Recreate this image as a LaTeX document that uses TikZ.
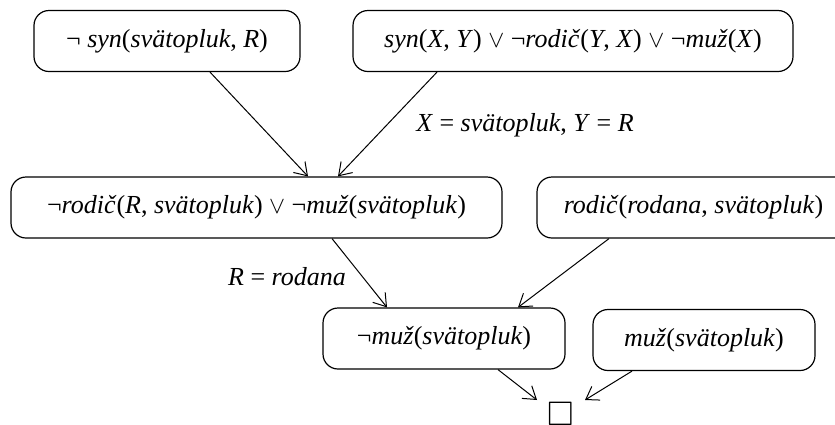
\documentclass[tikz,border=0pt]{standalone}
\usepackage{fontspec}
\usepackage{amssymb}
\setmainfont{Liberation Serif}
\usetikzlibrary{arrows.meta,calc}
\tikzset{
	clause/.style={draw,rounded corners=7.5pt,line width=0.6pt,minimum height=30.5pt,inner sep=0pt},
	resolve/.style={-{Straight Barb[length=6pt,width=8pt]},line width=0.5pt},
}
\begin{document}
\begin{tikzpicture}[x=0.5pt,y=-0.5pt,font=\fontsize{13}{15.5}\selectfont]
	\useasboundingbox (0,0) rectangle (835,424);
	\node[clause,minimum width=133pt] at (167,41) (a) {¬ \textit{syn}(\textit{svätopluk}, \textit{R})};
	\node[clause,minimum width=220pt] at (573,41) (b) {\textit{syn}(\textit{X}, \textit{Y}) $\vee$ ¬\textit{rodič}(\textit{Y}, \textit{X}) $\vee$ ¬\textit{muž}(\textit{X})};
	\node[clause,minimum width=245.5pt] at (256.5,207.5) (c) {¬\textit{rodič}(\textit{R}, \textit{svätopluk}) $\vee$ ¬\textit{muž}(\textit{svätopluk})};
	\node[clause,minimum width=156.5pt] at (693.5,207.5) (d) {\textit{rodič}(\textit{rodana}, \textit{svätopluk})};
	\node[clause,minimum width=121pt] at (444,338.5) (e) {¬\textit{muž}(\textit{svätopluk})};
	\node[clause,minimum width=111pt] at (704,340) (f) {\textit{muž}(\textit{svätopluk})};
	\node[font=\fontsize{17}{19}\selectfont] at (561,414.5) (empty) {$\square$};
	\node at (525,125) (subst1) {\textit{X} = \textit{svätopluk}, \textit{Y} = \textit{R}};
	\node at (287,277) (subst2) {\textit{R} = \textit{rodana}};
	\draw[resolve] ($(a.south)+(43,0)$) -- ($(c.north)+(51.5,0)$);
	\draw[resolve] ($(b.south)+(-136,0)$) -- ($(c.north)+(81.5,0)$);
	\draw[resolve] ($(c.south)+(75.5,0)$) -- ($(e.north)+(-57,0)$);
	\draw[resolve] ($(d.south)+(-84.5,0)$) -- ($(e.north)+(74,0)$);
	\draw[resolve] ($(e.south)+(54,0)$) -- ($(empty.center)+(-24,-14.5)$);
	\draw[resolve] ($(f.south)+(-72,0)$) -- ($(empty.center)+(24,-14.5)$);
\end{tikzpicture}
\end{document}
